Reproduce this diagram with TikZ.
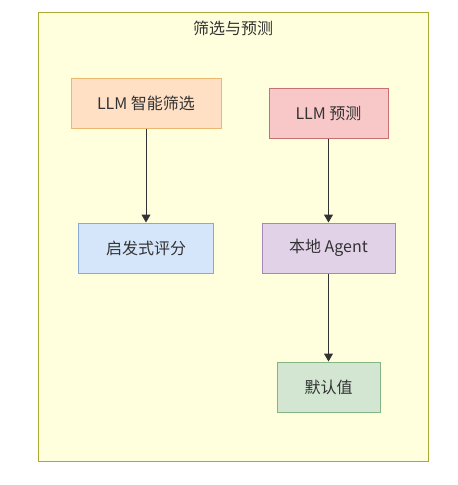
\documentclass[tikz,border=0pt]{standalone}
\usepackage{fontspec}
\setmainfont{Noto Sans CJK SC}
\usetikzlibrary{arrows.meta}

\definecolor{groupfill}{HTML}{FFFFDE}
\definecolor{groupline}{HTML}{AAAA33}
\definecolor{textgray}{HTML}{333333}
\definecolor{peachfill}{HTML}{FFE0C4}
\definecolor{peachline}{HTML}{EBB872}
\definecolor{redfill}{HTML}{F8C8C8}
\definecolor{redline}{HTML}{C87070}
\definecolor{bluefill}{HTML}{D6E6FA}
\definecolor{blueline}{HTML}{8CA8D6}
\definecolor{violetfill}{HTML}{E2D2E8}
\definecolor{violetline}{HTML}{A886B6}
\definecolor{greenfill}{HTML}{D2E6D2}
\definecolor{greenline}{HTML}{84B484}

\begin{document}
\begin{tikzpicture}[x=1pt,y=-1pt,
    box/.style={draw, line width=1pt, minimum height=50pt, inner sep=0pt,
        text=textgray, font=\fontsize{16}{19}\selectfont},
    flow/.style={draw=textgray, line width=1pt, -{Triangle[length=8pt,width=9pt]}}]
    \useasboundingbox (0,0) rectangle (458,485);
    % group frame
    \draw[fill=groupfill, draw=groupline, line width=1pt] (38,12) rectangle (428,461);
    \node[text=textgray, font=\fontsize{16}{19}\selectfont] (title) at (233,28) {筛选与预测};
    % left column
    \node[box, fill=peachfill, draw=peachline, minimum width=150pt] (llmfilter) at (146,103) {LLM 智能筛选};
    \node[box, fill=bluefill, draw=blueline, minimum width=135pt] (heuristic) at (146,248) {启发式评分};
    % right column
    \node[box, fill=redfill, draw=redline, minimum width=119pt] (llmpredict) at (328.5,113) {LLM 预测};
    \node[box, fill=violetfill, draw=violetline, minimum width=133pt] (agent) at (328.5,248) {本地 Agent};
    \node[box, fill=greenfill, draw=greenline, minimum width=103pt] (default) at (328.5,387) {默认值};
    % arrows
    \draw[flow] (llmfilter) -- (heuristic);
    \draw[flow] (llmpredict) -- (agent);
    \draw[flow] (agent) -- (default);
\end{tikzpicture}
\end{document}
